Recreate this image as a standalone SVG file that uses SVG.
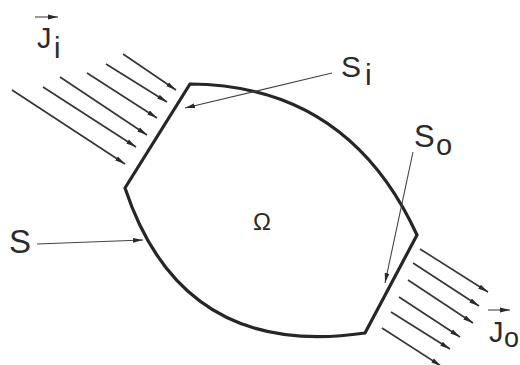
<svg xmlns="http://www.w3.org/2000/svg" width="520" height="365" viewBox="0 0 520 365">
<defs>
<marker id="ah" markerUnits="userSpaceOnUse" markerWidth="10" markerHeight="6" refX="10" refY="3" orient="auto">
<path d="M0,0.6 L10,3 L0,5.4 Z" fill="#2a2a2a"/>
</marker>
</defs>
<style>
.b{fill:none;stroke:#262626;stroke-width:3.2;stroke-linejoin:miter}
.f{stroke:#333;stroke-width:1.6;fill:none;marker-end:url(#ah)}
.l{stroke:#444;stroke-width:1.1;fill:none;marker-end:url(#ah)}
text{font-family:"Liberation Sans",Arial,sans-serif;fill:#2a2a2a}
</style>
<rect width="520" height="365" fill="#fff"/>
<g id="domain">
<path class="b" d="M125,188 L190,84 Q348,85 417,235 L365,333 Q182,360 125,188 Z"/>
<text x="262" y="230" font-size="24" text-anchor="middle">Ω</text>
</g>
<g id="flux-in">
<line class="f" x1="123" y1="54" x2="176" y2="90"/>
<line class="f" x1="106" y1="64" x2="167" y2="102"/>
<line class="f" x1="87" y1="73" x2="157" y2="118"/>
<line class="f" x1="60" y1="77" x2="147" y2="135"/>
<line class="f" x1="43" y1="87" x2="136" y2="147"/>
<line class="f" x1="12" y1="90" x2="125" y2="164"/>
</g>
<g id="flux-out">
<line class="f" x1="420" y1="249" x2="488" y2="292"/>
<line class="f" x1="413" y1="263" x2="479" y2="306"/>
<line class="f" x1="408" y1="280" x2="473" y2="323"/>
<line class="f" x1="399" y1="297" x2="460" y2="337"/>
<line class="f" x1="391" y1="312" x2="450" y2="349"/>
<line class="f" x1="382" y1="328" x2="441" y2="366"/>
</g>
<g id="label-Ji">
<line class="l" x1="35" y1="17" x2="58" y2="17"/>
<text x="37" y="48" font-size="29">J</text>
<text x="54" y="58" font-size="29">i</text>
</g>
<g id="label-Jo">
<line class="l" x1="488" y1="310" x2="510" y2="310"/>
<text x="489" y="342" font-size="29">J</text>
<text x="504" y="347" font-size="27">o</text>
</g>
<g id="label-Si">
<text x="341" y="77" font-size="30">S</text>
<text x="365" y="85" font-size="30">i</text>
</g>
<g id="label-So">
<text x="414" y="147" font-size="31">S</text>
<text x="436" y="155" font-size="29">o</text>
</g>
<g id="label-S">
<text x="9" y="253" font-size="33">S</text>
</g>
<g id="connectors">
<line class="l" x1="37" y1="244" x2="143" y2="240"/>
<line class="l" x1="332" y1="73" x2="185" y2="108"/>
<line class="l" x1="413" y1="152" x2="385" y2="283"/>
</g>
</svg>
